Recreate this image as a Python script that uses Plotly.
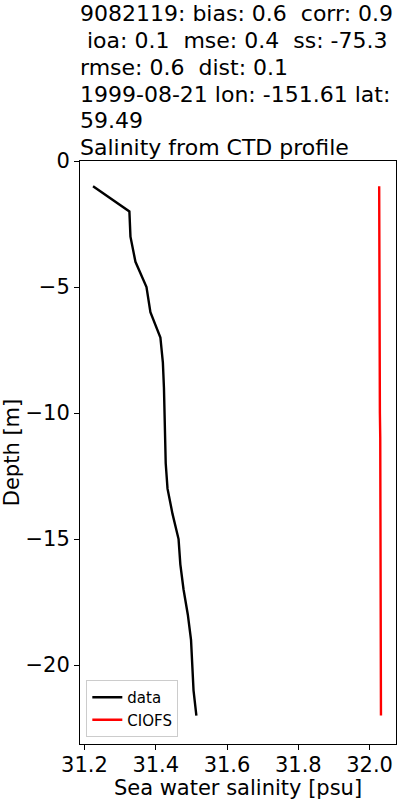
import plotly.graph_objects as go

depth = [-1, -2, -3, -4, -5, -6, -7, -8, -9, -10, -11, -12, -13, -14, -15, -16, -17, -18, -19, -20, -21, -22]
sal_data = [31.224, 31.326, 31.329, 31.343, 31.374, 31.385, 31.413, 31.420, 31.423, 31.425, 31.428,
            31.428, 31.433, 31.447, 31.464, 31.469, 31.478, 31.490, 31.499, 31.502, 31.506, 31.514]
sal_model = [32.027, 32.027, 32.028, 32.028, 32.028, 32.028, 32.029, 32.029, 32.029, 32.029, 32.030,
             32.030, 32.030, 32.030, 32.030, 32.031, 32.031, 32.031, 32.031, 32.032, 32.032, 32.032]
title_lines = [
    "9082119: bias: 0.6  corr: 0.9",
    " ioa: 0.1  mse: 0.4  ss: -75.3",
    "rmse: 0.6  dist: 0.1",
    "1999-08-21 lon: -151.61 lat:",
    "59.49",
    "Salinity from CTD profile",
]
x_ticks = [31.2, 31.4, 31.6, 31.8, 32.0]
x_ticklabels = ["31.2", "31.4", "31.6", "31.8", "32.0"]
y_ticks = [0, -5, -10, -15, -20]

FONT = "DejaVu Sans"
L, R, T, B = 80, 4, 161, 56
H = 800
plot_h = H - T - B

fig = go.Figure()
fig.add_trace(go.Scatter(x=sal_data, y=depth, mode="lines", name="data",
                         line=dict(color="black", width=2.4)))
fig.add_trace(go.Scatter(x=sal_model, y=depth, mode="lines", name="CIOFS",
                         line=dict(color="red", width=2.4)))

line_centers = [14, 41, 67, 94, 120, 147]
for txt, yc in zip(title_lines, line_centers):
    fig.add_annotation(text=txt.replace(" ", "&nbsp;"),
                       xref="paper", yref="paper", x=0, xshift=-2, y=(H - B - yc) / plot_h,
                       xanchor="left", yanchor="middle", showarrow=False,
                       font=dict(family=FONT, size=22, color="black"))

fig.update_layout(
    width=400, height=800,
    margin=dict(l=L, r=R, t=T, b=B),
    paper_bgcolor="white", plot_bgcolor="white",
    font=dict(family=FONT, size=22, color="black"),
    showlegend=True,
    legend=dict(x=0.02, y=0.012, xanchor="left", yanchor="bottom",
                bordercolor="#cccccc", borderwidth=1, bgcolor="rgba(255,255,255,0.8)",
                font=dict(family=FONT, size=15), tracegroupgap=0, itemwidth=30),
    xaxis=dict(range=[31.1874, 32.0742], tickvals=x_ticks, ticktext=x_ticklabels,
               showgrid=False, zeroline=False, showline=True, linecolor="black",
               linewidth=1, mirror=True, ticks="outside", ticklen=5, tickcolor="black",
               tickfont=dict(size=21), ticklabelstandoff=-3,
               title=dict(text="Sea water salinity [psu]", font=dict(size=21), standoff=0)),
    yaxis=dict(range=[-23.13, 0], tickvals=y_ticks,
               showgrid=False, zeroline=False, showline=True, linecolor="black",
               linewidth=1, mirror=True, ticks="outside", ticklen=5, tickcolor="black",
               tickfont=dict(size=21),
               title=dict(text="Depth [m]", font=dict(size=21), standoff=4)),
)

fig.write_html("out.html", config={"displayModeBar": False},
               post_script="document.body.style.margin='0';document.body.style.overflow='hidden';")
